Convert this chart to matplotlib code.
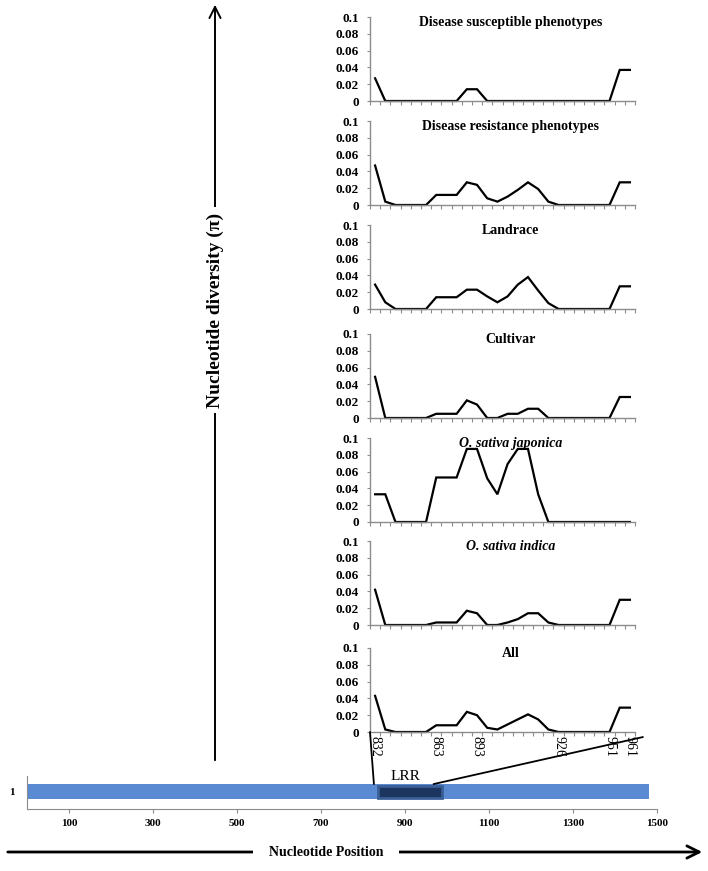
import matplotlib
matplotlib.use("Agg")
import matplotlib.pyplot as plt
from matplotlib.patches import Rectangle, FancyArrowPatch, ConnectionPatch
import numpy as np

plt.rcParams['font.family'] = ['Liberation Serif', 'DejaVu Serif']

# Nucleotide diversity per SNP window (26 windows across the LRR region)
susceptible = [0.027, 0, 0, 0, 0, 0, 0, 0, 0, 0.014, 0.014, 0, 0, 0, 0, 0, 0, 0, 0, 0, 0, 0, 0, 0,
               0.037, 0.037]
resistance = [0.047, 0.004, 0, 0, 0, 0, 0.012, 0.012, 0.012, 0.027, 0.024, 0.008, 0.004, 0.010,
              0.018, 0.027, 0.019, 0.004, 0, 0, 0, 0, 0, 0, 0.027, 0.027]
landrace = [0.029, 0.008, 0, 0, 0, 0, 0.014, 0.014, 0.014, 0.023, 0.023, 0.015, 0.008, 0.015,
            0.029, 0.038, 0.022, 0.007, 0, 0, 0, 0, 0, 0, 0.027, 0.027]
cultivar = [0.049, 0, 0, 0, 0, 0, 0.005, 0.005, 0.005, 0.021, 0.016, 0, 0, 0.005, 0.005, 0.011,
            0.011, 0, 0, 0, 0, 0, 0, 0, 0.025, 0.025]
japonica = [0.033, 0.033, 0, 0, 0, 0, 0.053, 0.053, 0.053, 0.087, 0.087, 0.052, 0.033, 0.069,
            0.087, 0.087, 0.033, 0, 0, 0, 0, 0, 0, 0, 0, 0]
indica = [0.042, 0, 0, 0, 0, 0, 0.003, 0.003, 0.003, 0.017, 0.014, 0, 0, 0.003, 0.007, 0.014,
          0.014, 0.003, 0, 0, 0, 0, 0, 0, 0.030, 0.030]
all_acc = [0.043, 0.003, 0, 0, 0, 0, 0.008, 0.008, 0.008, 0.024, 0.020, 0.005, 0.003, 0.009,
           0.015, 0.021, 0.015, 0.003, 0, 0, 0, 0, 0, 0, 0.029, 0.029]

panel_titles = ["Disease susceptible phenotypes", "Disease resistance phenotypes", "Landrace",
                "Cultivar", "O. sativa japonica", "O. sativa indica", "All"]
panel_values = [susceptible, resistance, landrace, cultivar, japonica, indica, all_acc]

snp_label_idx = [0, 6, 10, 18, 23, 25]
snp_labels = ["832", "863", "893", "926", "951", "961"]

y_ticks = [0, 0.02, 0.04, 0.06, 0.08, 0.1]
y_ticklabels = ["0", "0.02", "0.04", "0.06", "0.08", "0.1"]

gene_length = 1481
lrr_start, lrr_end = 836, 988
gene_ticks = [100, 300, 500, 700, 900, 1100, 1300, 1500]

W, H = 708, 871
fig = plt.figure(figsize=(W / 100, H / 100), dpi=100)
AXIS_GRAY = '#8c8c8c'


def px_axes(left, top, right, bottom):
    return fig.add_axes([left / W, 1 - bottom / H, (right - left) / W, (bottom - top) / H])


panel_tops = [17, 121, 225, 334, 438, 541, 648]
panel_h = 84
axes = []
for top, title, vals in zip(panel_tops, panel_titles, panel_values):
    ax = px_axes(370, top, 635, top + panel_h)
    x = np.arange(len(vals))
    ax.plot(x, vals, color='black', linewidth=1.6, clip_on=False, solid_joinstyle='miter')
    ax.set_xlim(-0.5, len(vals) - 0.5)
    ax.set_ylim(0, 0.1)
    for s in ['top', 'right']:
        ax.spines[s].set_visible(False)
    for s in ['left', 'bottom']:
        ax.spines[s].set_color(AXIS_GRAY)
        ax.spines[s].set_linewidth(1)
    ax.set_xticks(np.arange(-0.5, len(vals), 1))
    ax.set_xticklabels([])
    ax.tick_params(axis='x', which='major', length=3, color=AXIS_GRAY, direction='out')
    ax.set_yticks(y_ticks)
    ax.set_yticklabels(y_ticklabels, fontsize=9.5, fontweight='bold')
    ax.tick_params(axis='y', length=2, color=AXIS_GRAY, pad=6)
    italic = 'italic' if title.startswith('O.') else 'normal'
    ax.text(0.53, 0.93, title, transform=ax.transAxes, ha='center', va='center',
            fontsize=10, fontweight='bold', style=italic)
    axes.append(ax)

# SNP position labels under the bottom panel
ax_all = axes[-1]
ax_all.set_xticks(snp_label_idx, minor=True)
ax_all.set_xticklabels(snp_labels, minor=True, rotation=-90, fontsize=10)
ax_all.tick_params(axis='x', which='minor', length=0, pad=3)

# gene bar with the LRR domain
ax_g = px_axes(27, 776, 657, 809)
ax_g.set_xlim(0, 1500)
ax_g.set_ylim(0, 1)
ax_g.barh(0.53, gene_length, height=0.45, left=0, color='#5a8ad2')
bar_top = 0.53 + 0.225
ax_g.add_patch(Rectangle((lrr_start, 0.33), lrr_end - lrr_start, 0.38,
                         facecolor='#1c355f', edgecolor='#3a5f95', linewidth=2))
ax_g.text((lrr_start + lrr_end) / 2 - 10, 0.97, "LRR", ha='center', va='center', fontsize=11,
          clip_on=False)
for s in ['top', 'right']:
    ax_g.spines[s].set_visible(False)
for s in ['left', 'bottom']:
    ax_g.spines[s].set_color(AXIS_GRAY)
ax_g.set_xticks(gene_ticks)
ax_g.set_xticklabels([str(t) for t in gene_ticks], fontsize=8, fontweight='bold')
ax_g.tick_params(axis='x', length=3, color=AXIS_GRAY, pad=4)
ax_g.set_yticks([0.53])
ax_g.set_yticklabels(["1"], fontsize=8, fontweight='bold')
ax_g.tick_params(axis='y', length=0, pad=9)

# zoom lines from the LRR box up to the diversity panels
fig.add_artist(ConnectionPatch(xyA=(lrr_start - 10, bar_top), coordsA=ax_g.transData,
                               xyB=(-0.5, 0), coordsB=ax_all.transData,
                               color='black', linewidth=1.3))
fig.add_artist(ConnectionPatch(xyA=(lrr_end - 20, bar_top), coordsA=ax_g.transData,
                               xyB=(1.03, -0.06), coordsB=ax_all.transAxes,
                               color='black', linewidth=1.3))

# axis arrows
fig.add_artist(FancyArrowPatch((215 / W, 1 - 763 / H), (215 / W, 1 - 2 / H),
                               transform=fig.transFigure, arrowstyle='->', mutation_scale=20,
                               linewidth=1.4, color='black'))
fig.text(215 / W, 1 - 310 / H, "Nucleotide diversity (π)", rotation=90, ha='center',
         va='center', fontsize=14, fontweight='bold',
         bbox=dict(facecolor='white', edgecolor='none', pad=4), zorder=5)

fig.add_artist(FancyArrowPatch((5 / W, 1 - 852 / H), (705 / W, 1 - 852 / H),
                               transform=fig.transFigure, arrowstyle='->', mutation_scale=22,
                               linewidth=2, color='black'))
fig.text(326 / W, 1 - 852 / H, "Nucleotide Position", ha='center', va='center',
         fontsize=10, fontweight='bold',
         bbox=dict(facecolor='white', edgecolor='none', pad=11), zorder=5)

fig.savefig("out.png", dpi=100)
